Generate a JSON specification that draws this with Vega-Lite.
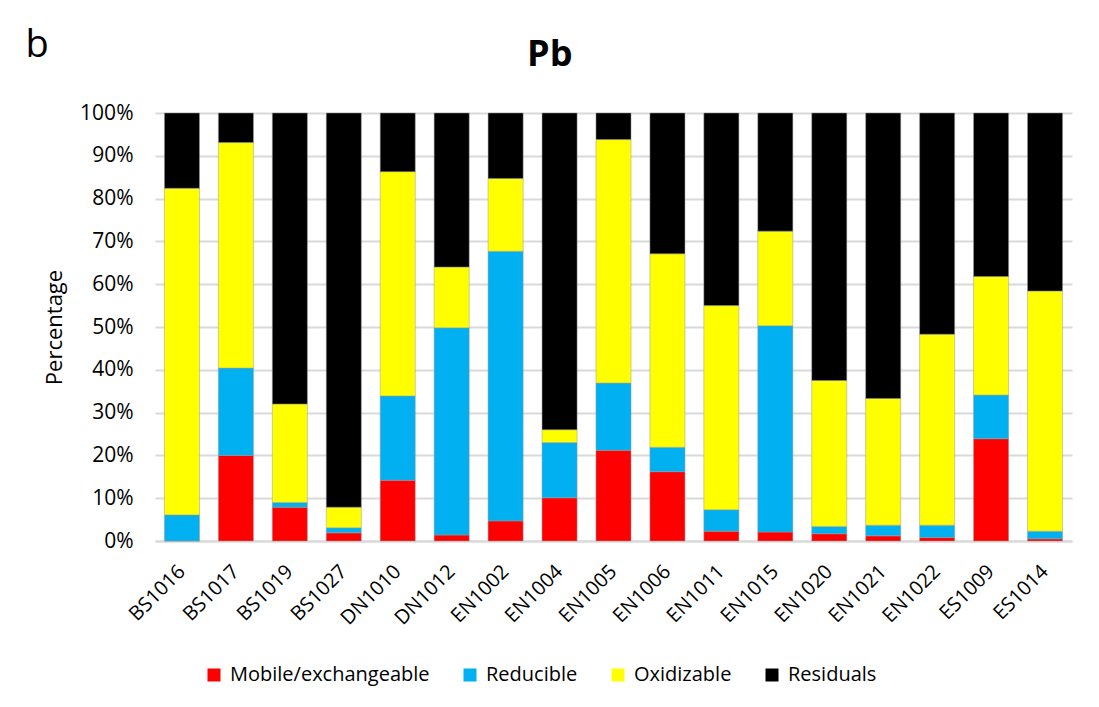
{
  "$schema": "https://vega.github.io/schema/vega-lite/v6.json",
  "background": "white",
  "padding": {"left": 25, "top": 27, "right": 5, "bottom": 5},
  "title": {"text": "b", "anchor": "start", "frame": "bounds", "fontSize": 38, "font": "Open Sans", "fontWeight": "normal", "color": "black", "offset": -28, "dx": -18},
  "config": {"view": {"stroke": null}, "font": "Open Sans"},
  "vconcat": [
    {
      "width": 917,
      "height": 428,
      "title": {"text": "Pb", "anchor": "middle", "frame": "bounds", "fontSize": 36, "font": "Open Sans", "fontWeight": "bold", "color": "black", "offset": 28, "dx": -8},
      "data": {
        "values": [
          {"site": "BS1016", "fraction": "Mobile/exchangeable", "value": 0},
          {"site": "BS1016", "fraction": "Reducible", "value": 6.1},
          {"site": "BS1016", "fraction": "Oxidizable", "value": 76.3},
          {"site": "BS1016", "fraction": "Residuals", "value": 17.6},
          {"site": "BS1017", "fraction": "Mobile/exchangeable", "value": 20.0},
          {"site": "BS1017", "fraction": "Reducible", "value": 20.4},
          {"site": "BS1017", "fraction": "Oxidizable", "value": 52.7},
          {"site": "BS1017", "fraction": "Residuals", "value": 6.9},
          {"site": "BS1019", "fraction": "Mobile/exchangeable", "value": 7.9},
          {"site": "BS1019", "fraction": "Reducible", "value": 1.1},
          {"site": "BS1019", "fraction": "Oxidizable", "value": 23.0},
          {"site": "BS1019", "fraction": "Residuals", "value": 68.0},
          {"site": "BS1027", "fraction": "Mobile/exchangeable", "value": 1.9},
          {"site": "BS1027", "fraction": "Reducible", "value": 1.2},
          {"site": "BS1027", "fraction": "Oxidizable", "value": 4.8},
          {"site": "BS1027", "fraction": "Residuals", "value": 92.1},
          {"site": "DN1010", "fraction": "Mobile/exchangeable", "value": 14.2},
          {"site": "DN1010", "fraction": "Reducible", "value": 19.7},
          {"site": "DN1010", "fraction": "Oxidizable", "value": 52.4},
          {"site": "DN1010", "fraction": "Residuals", "value": 13.7},
          {"site": "DN1012", "fraction": "Mobile/exchangeable", "value": 1.4},
          {"site": "DN1012", "fraction": "Reducible", "value": 48.4},
          {"site": "DN1012", "fraction": "Oxidizable", "value": 14.2},
          {"site": "DN1012", "fraction": "Residuals", "value": 36.0},
          {"site": "EN1002", "fraction": "Mobile/exchangeable", "value": 4.7},
          {"site": "EN1002", "fraction": "Reducible", "value": 63.0},
          {"site": "EN1002", "fraction": "Oxidizable", "value": 17.0},
          {"site": "EN1002", "fraction": "Residuals", "value": 15.3},
          {"site": "EN1004", "fraction": "Mobile/exchangeable", "value": 10.1},
          {"site": "EN1004", "fraction": "Reducible", "value": 12.9},
          {"site": "EN1004", "fraction": "Oxidizable", "value": 3.0},
          {"site": "EN1004", "fraction": "Residuals", "value": 74.0},
          {"site": "EN1005", "fraction": "Mobile/exchangeable", "value": 21.2},
          {"site": "EN1005", "fraction": "Reducible", "value": 15.7},
          {"site": "EN1005", "fraction": "Oxidizable", "value": 56.9},
          {"site": "EN1005", "fraction": "Residuals", "value": 6.2},
          {"site": "EN1006", "fraction": "Mobile/exchangeable", "value": 16.2},
          {"site": "EN1006", "fraction": "Reducible", "value": 5.7},
          {"site": "EN1006", "fraction": "Oxidizable", "value": 45.2},
          {"site": "EN1006", "fraction": "Residuals", "value": 32.9},
          {"site": "EN1011", "fraction": "Mobile/exchangeable", "value": 2.3},
          {"site": "EN1011", "fraction": "Reducible", "value": 5.0},
          {"site": "EN1011", "fraction": "Oxidizable", "value": 47.7},
          {"site": "EN1011", "fraction": "Residuals", "value": 45.0},
          {"site": "EN1015", "fraction": "Mobile/exchangeable", "value": 2.1},
          {"site": "EN1015", "fraction": "Reducible", "value": 48.2},
          {"site": "EN1015", "fraction": "Oxidizable", "value": 22.1},
          {"site": "EN1015", "fraction": "Residuals", "value": 27.6},
          {"site": "EN1020", "fraction": "Mobile/exchangeable", "value": 1.7},
          {"site": "EN1020", "fraction": "Reducible", "value": 1.7},
          {"site": "EN1020", "fraction": "Oxidizable", "value": 34.1},
          {"site": "EN1020", "fraction": "Residuals", "value": 62.5},
          {"site": "EN1021", "fraction": "Mobile/exchangeable", "value": 1.2},
          {"site": "EN1021", "fraction": "Reducible", "value": 2.5},
          {"site": "EN1021", "fraction": "Oxidizable", "value": 29.6},
          {"site": "EN1021", "fraction": "Residuals", "value": 66.7},
          {"site": "EN1022", "fraction": "Mobile/exchangeable", "value": 0.8},
          {"site": "EN1022", "fraction": "Reducible", "value": 2.9},
          {"site": "EN1022", "fraction": "Oxidizable", "value": 44.6},
          {"site": "EN1022", "fraction": "Residuals", "value": 51.7},
          {"site": "ES1009", "fraction": "Mobile/exchangeable", "value": 23.9},
          {"site": "ES1009", "fraction": "Reducible", "value": 10.2},
          {"site": "ES1009", "fraction": "Oxidizable", "value": 27.7},
          {"site": "ES1009", "fraction": "Residuals", "value": 38.2},
          {"site": "ES1014", "fraction": "Mobile/exchangeable", "value": 0.5},
          {"site": "ES1014", "fraction": "Reducible", "value": 1.8},
          {"site": "ES1014", "fraction": "Oxidizable", "value": 56.1},
          {"site": "ES1014", "fraction": "Residuals", "value": 41.6}
        ]
      },
      "transform": [
        {"calculate": "indexof(['Mobile/exchangeable', 'Reducible', 'Oxidizable', 'Residuals'], datum.fraction)", "as": "stackOrder"}
      ],
      "mark": {"type": "bar", "stroke": "#9a9a9a", "strokeWidth": 0.5},
      "encoding": {
        "x": {
          "field": "site", "type": "nominal", "sort": null,
          "scale": {"paddingInner": 0.35, "paddingOuter": 0.175},
          "axis": {"title": null, "labelAngle": -45, "labelFontSize": 20, "labelFont": "Open Sans", "labelColor": "black", "ticks": false, "domainColor": "#d9d9d9", "domainWidth": 2, "labelPadding": 20, "labelOffset": -7}
        },
        "y": {
          "field": "value", "type": "quantitative", "stack": "normalize",
          "scale": {"domain": [0, 1], "nice": false},
          "axis": {"title": "Percentage", "titleFontSize": 22, "titleFont": "Open Sans", "titleFontWeight": "normal", "titleColor": "black", "titlePadding": 13,
                   "format": ".0%", "values": [0, 0.1, 0.2, 0.3, 0.4, 0.5, 0.6, 0.7, 0.8, 0.9, 1],
                   "labelFontSize": 21, "labelFont": "Open Sans", "labelColor": "black", "labelPadding": 22,
                   "grid": true, "gridColor": "#d9d9d9", "gridWidth": 2, "domain": false, "ticks": false}
        },
        "order": {"field": "stackOrder", "type": "quantitative", "sort": "ascending"},
        "color": {
          "field": "fraction", "type": "nominal",
          "scale": {"domain": ["Mobile/exchangeable", "Reducible", "Oxidizable", "Residuals"], "range": ["#FF0000", "#00B0F0", "#FFFF00", "#000000"]},
          "legend": {"title": null, "orient": "none", "legendX": 49, "legendY": 552, "direction": "horizontal", "symbolType": "square", "symbolSize": 169, "symbolStrokeWidth": 0, "symbolOpacity": 1,
                     "labelFontSize": 20, "labelFont": "Open Sans", "labelColor": "black", "labelLimit": 0, "labelOffset": 6, "columnPadding": 30}
        }
      }
    }
  ]
}
